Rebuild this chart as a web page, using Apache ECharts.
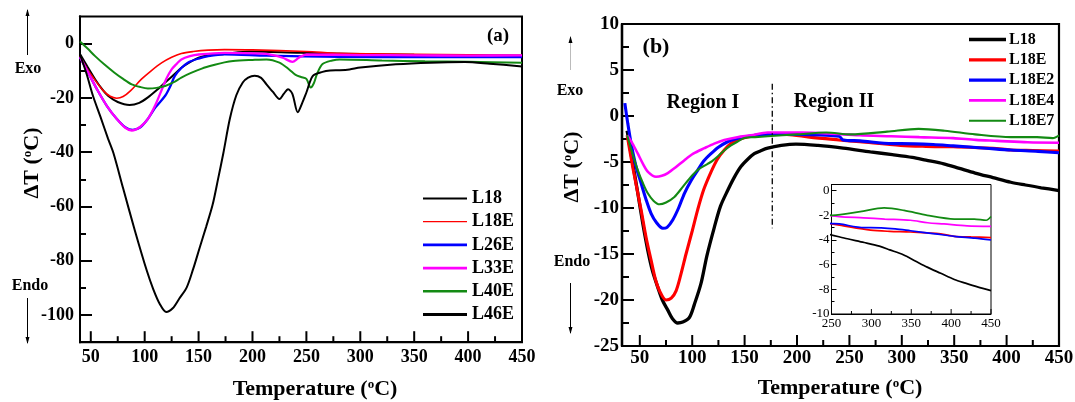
<!DOCTYPE html>
<html>
<head>
<meta charset="utf-8">
<script src="https://cdn.jsdelivr.net/npm/echarts@6/dist/echarts.min.js"></script>
<style>
html,body{margin:0;padding:0;background:#fff;}
#c{width:1075px;height:402px;}
</style>
</head>
<body>
<div id="c"></div>
<script>
// ---------- Panel (a) data: [temperature, deltaT] ----------
const a_L18 = [[40,-3.8],[47,-8.5],[54,-13.1],[60,-16.5],[66,-19.2],[75,-21.5],[86,-22.6],[95,-21.8],[103,-19.8],[111,-17.2],[119,-14.3],[127,-11.5],[134,-8.9],[142,-6.8],[150,-5.2],[160,-4.3],[174,-3.8],[197,-2.9],[244,-3.4],[300,-3.8],[350,-4.1],[400,-4.3],[450,-4.5]];
const a_L18E = [[40,-4.6],[47,-9.5],[55,-14],[62,-17.5],[68,-19.4],[74,-20.1],[80,-19.5],[87,-17.3],[97,-13.1],[106,-10],[116,-7],[125,-5],[134,-3.6],[145,-2.9],[159,-2.4],[174,-2.2],[200,-2.3],[250,-2.9],[281,-3.6],[350,-3.9],[400,-4.1],[450,-4.3]];
const a_L26E = [[40,-5],[48,-11],[56,-17],[65,-23],[74,-27.7],[82,-30.8],[89,-31.8],[96,-30.8],[103,-27.7],[110,-23.5],[119,-19.2],[124,-15.5],[128,-11.9],[134,-9],[140,-7],[150,-5.5],[159,-4.6],[174,-3.9],[213,-4.4],[281,-4.9],[350,-5],[400,-5],[450,-5]];
const a_L33E = [[40,-5],[48,-11],[56,-17],[65,-23],[74,-27.7],[82,-31],[88,-32],[96,-30.6],[103,-27.7],[110,-22.5],[116,-16.8],[120,-13],[125,-9.5],[130,-7.3],[134,-5.8],[142,-4.6],[150,-4],[174,-3.4],[213,-3.8],[228,-5.2],[237,-6.7],[243,-5.2],[250,-4],[300,-4.2],[350,-4.3],[400,-4.4],[450,-4.3]];
const a_L40E = [[40,0.8],[47,-1.8],[54,-4.6],[63,-7.8],[72,-10.7],[80,-13],[88,-15],[96,-16],[103,-16.5],[111,-16.3],[119,-15.6],[127,-14.2],[134,-12.5],[143,-10.8],[153,-9.2],[165,-7.8],[174,-6.9],[182,-6.4],[200,-6],[213,-5.8],[225,-7],[234,-9.5],[240,-11.5],[245,-12.3],[250,-13],[254,-16.2],[257,-14.5],[260,-11],[265,-7.5],[274,-6.2],[281,-5.8],[320,-6.2],[360,-6.5],[400,-6.7],[450,-7]];
const a_L46E = [[40,-4],[46,-11],[52,-19.2],[59,-27],[66,-35],[71,-40.3],[80,-53.3],[91,-69],[102,-83.7],[108,-90.5],[114,-95.9],[120,-98.9],[126,-97.5],[132,-94],[139,-89.8],[145,-83],[151,-75.2],[157,-67.5],[163,-59.4],[168,-50],[173,-40.3],[179,-27.7],[185,-19],[191,-14.3],[196,-12.5],[202,-11.8],[208,-12.6],[213,-15],[219,-17.8],[225,-20.4],[229,-18.5],[233,-16.8],[237,-18.5],[242,-25.3],[246,-22],[250,-18],[256,-11.9],[265,-10.4],[272,-9.9],[281,-9.8],[290,-9.5],[300,-8.8],[333,-7.6],[365,-7],[397,-6.8],[420,-7.4],[450,-8.4]];

// ---------- Panel (b) data ----------
const b_L18 = [[37.9,-1.6],[43,-5],[48.1,-8.4],[53,-11.8],[57.6,-14.6],[62,-16.8],[67.1,-18.6],[71.5,-20],[76.7,-21.1],[81,-22],[86.2,-22.5],[91,-22.4],[97.3,-21.9],[102,-20.5],[108.4,-18.2],[114,-15.2],[121.1,-12.1],[127,-9.8],[133.8,-8.1],[140,-6.7],[146.5,-5.5],[153,-4.7],[159.2,-4.1],[165,-3.8],[172,-3.5],[185,-3.2],[199,-3.05],[220,-3.2],[244,-3.5],[270,-3.9],[291,-4.2],[310,-4.5],[323,-4.8],[340,-5.2],[355,-5.7],[370,-6.2],[387,-6.7],[404,-7.2],[418,-7.5],[433,-7.8],[450,-8.1]];
const b_L18E = [[37.9,-2.1],[44,-6],[51.2,-10.2],[56,-13.2],[60.8,-15.7],[65,-17.8],[68.8,-19],[75,-20],[80,-19.8],[84.6,-19],[89,-17.3],[94.1,-15],[100,-12.5],[105.2,-10.2],[111,-8],[117.9,-6.1],[124,-4.7],[130.6,-3.7],[137,-3],[143.3,-2.6],[156,-2.2],[172,-2.0],[190,-2.0],[212,-2.3],[240,-2.6],[260,-2.8],[299,-3.2],[323,-3.3],[349,-3.35],[387,-3.5],[404,-3.7],[425,-3.75],[450,-3.8]];
const b_L18E2 = [[35.7,1.4],[38.5,-0.8],[41.7,-3],[46,-5.3],[51.2,-7.3],[56,-9.1],[60.8,-10.6],[66,-11.6],[71.9,-12.2],[76,-12.1],[81.4,-11.3],[87,-10],[92.6,-8.4],[99,-7],[105.2,-5.9],[111,-4.9],[117.9,-4.1],[125,-3.4],[133.8,-2.8],[141,-2.5],[149.7,-2.3],[160,-2.1],[172,-2.0],[200,-2.0],[240,-2.2],[244,-2.6],[260,-2.7],[291,-3.0],[299,-3.0],[330,-3.1],[349,-3.25],[380,-3.5],[404,-3.7],[430,-3.85],[450,-4.0]];
const b_L18E4 = [[37.9,-2.1],[43,-3],[48.1,-4.1],[53,-5.2],[58,-6.1],[65.5,-6.6],[71,-6.5],[76.7,-6.2],[84,-5.6],[92.6,-4.8],[101,-4.1],[111.6,-3.5],[121,-3.0],[130.6,-2.6],[143,-2.3],[156,-2.1],[172,-1.8],[205,-1.8],[230,-1.9],[259.5,-2.1],[290,-2.2],[316.7,-2.3],[349,-2.4],[370.6,-2.6],[391,-2.7],[420,-2.85],[450,-2.9]];
const b_L18E7 = [[37.9,-2.1],[43,-4.1],[48.1,-5.9],[53,-7.3],[57.6,-8.4],[63,-9.2],[68.8,-9.6],[75,-9.4],[83,-8.8],[91,-7.7],[98.9,-6.6],[106,-5.8],[114.8,-5.2],[119,-4.9],[124.3,-4.4],[130,-3.8],[137,-3.2],[143,-2.8],[149.7,-2.4],[160,-2.3],[172,-2.2],[200,-2.0],[228,-1.8],[251,-2.0],[286,-1.7],[316,-1.4],[341,-1.6],[370,-2.0],[404,-2.3],[429,-2.3],[444,-2.4],[450,-2.1]];
const b_boundary = [[176.4,3.5],[176.4,-12.2]];

// ---------- Tick values ----------
const aXTicks = [50,100,150,200,250,300,350,400,450];
const aXMinor = [75,125,175,225,275,325,375,425];
const aYTicks = [-100,-80,-60,-40,-20,0];
const aYMinor = [-90,-70,-50,-30,-10];
const bXTicks = [50,100,150,200,250,300,350,400,450];
const bXMinor = [75,125,175,225,275,325,375,425];
const bYTicks = [-25,-20,-15,-10,-5,0,5,10];
const bYMinor = [-22.5,-17.5,-12.5,-7.5,-2.5,2.5,7.5];
const iXTicks = [250,300,350,400,450];
const iXMinor = [275,325,375,425];
const iYTicks = [-10,-8,-6,-4,-2,0];
const iYMinor = [-9,-7,-5,-3,-1];

const FF = '"Liberation Serif","Times New Roman",serif';

function xAxisDef(grid, min, max, major, o) {
  return {
    type: 'value', gridIndex: grid, min: min, max: max, position: 'bottom',
    axisLine: {show: true, onZero: false, lineStyle: {color: '#000', width: o.lineW}},
    splitLine: {show: false},
    axisTick: {show: false},
    axisLabel: {show: true, customValues: major, margin: o.margin, fontFamily: FF, fontWeight: o.bold ? 'bold' : 'normal', fontSize: o.fs, color: '#000'}
  };
}
function yAxesPair(grid, min, max, major, minor, o) {
  const line = {show: true, onZero: false, lineStyle: {color: '#000', width: o.lineW}};
  return [{
    type: 'value', gridIndex: grid, min: min, max: max, position: 'left',
    axisLine: line, splitLine: {show: false},
    axisTick: {show: true, inside: true, length: o.majorLen, customValues: major, lineStyle: {color: '#000', width: o.tickW}},
    axisLabel: {show: true, customValues: major, margin: o.margin, fontFamily: FF, fontWeight: o.bold ? 'bold' : 'normal', fontSize: o.fs, color: '#000'}
  }, {
    type: 'value', gridIndex: grid, min: min, max: max, position: 'left',
    axisLine: line, splitLine: {show: false}, axisLabel: {show: false},
    axisTick: {show: true, inside: true, length: o.minorLen, customValues: minor, lineStyle: {color: '#000', width: o.tickW}}
  }];
}

const xAxes = [
  xAxisDef(0, 40, 450, aXTicks, {lineW: 2, margin: 6, fs: 18, bold: true}),
  xAxisDef(1, 33, 450, bXTicks, {lineW: 2.2, margin: 3, fs: 19, bold: true}),
  xAxisDef(2, 250, 450, iXTicks, {lineW: 1, margin: 3, fs: 13, bold: false})
];
const yAxes = [].concat(
  yAxesPair(0, -110, 10, aYTicks, aYMinor, {majorLen: 12, minorLen: 6, tickW: 2, lineW: 2, margin: 6, fs: 18, bold: true}),
  yAxesPair(1, -25, 10, bYTicks, bYMinor, {majorLen: 12, minorLen: 7, tickW: 2, lineW: 2.2, margin: 3, fs: 19, bold: true}),
  yAxesPair(2, -10, 0.5, iYTicks, iYMinor, {majorLen: 5, minorLen: 3, tickW: 1, lineW: 1, margin: 2, fs: 13, bold: false})
);

// Bottom-axis tick marks, placed through the axis scales (inward pointing)
function xTickSeries(xi, yi, yBottom, major, minor, majorLen, minorLen, w) {
  const data = major.map(function (v) { return [v, yBottom, majorLen]; })
    .concat(minor.map(function (v) { return [v, yBottom, minorLen]; }));
  return {
    type: 'custom', name: 'xticks' + xi, xAxisIndex: xi, yAxisIndex: yi, clip: false, silent: true, z: 5,
    encode: {x: 0, y: 1},
    data: data,
    renderItem: function (params, api) {
      const p = api.coord([api.value(0), api.value(1)]);
      const len = api.value(2);
      return {type: 'line', shape: {x1: p[0], y1: p[1], x2: p[0], y2: p[1] - len}, style: {stroke: '#000', lineWidth: w}};
    }
  };
}

function ser(name, data, xi, yi, color, width, extra) {
  return Object.assign({
    name: name, type: 'line', data: data, xAxisIndex: xi, yAxisIndex: yi,
    symbol: 'none', showSymbol: false, smooth: 0.3, clip: true,
    color: color, lineStyle: {color: color, width: width}, silent: true
  }, extra || {});
}

const BLACK = '#000000', RED = '#ff0000', BLUE = '#0000ff', MAG = '#ff00ff', GREEN = '#138a13';

const series = [
  ser('L18', a_L18, 0, 0, BLACK, 2),
  ser('L18E', a_L18E, 0, 0, RED, 1.6),
  ser('L26E', a_L26E, 0, 0, BLUE, 2.3),
  ser('L33E', a_L33E, 0, 0, MAG, 2.3),
  ser('L40E', a_L40E, 0, 0, GREEN, 2),
  ser('L46E', a_L46E, 0, 0, BLACK, 2),

  ser('L18 (b)', b_L18, 1, 2, BLACK, 3.3),
  ser('L18E (b)', b_L18E, 1, 2, RED, 3.1),
  ser('L18E2', b_L18E2, 1, 2, BLUE, 3.1),
  ser('L18E4', b_L18E4, 1, 2, MAG, 2.6),
  ser('L18E7', b_L18E7, 1, 2, GREEN, 2.1),
  ser('boundary', b_boundary, 1, 2, BLACK, 1.3, {smooth: false, lineStyle: {color: BLACK, width: 1.3, type: [6, 3, 1.5, 3]}}),

  ser('inset L18', b_L18, 2, 4, BLACK, 1.7),
  ser('inset L18E', b_L18E, 2, 4, RED, 1.7),
  ser('inset L18E2', b_L18E2, 2, 4, BLUE, 1.7),
  ser('inset L18E4', b_L18E4, 2, 4, MAG, 1.7),
  ser('inset L18E7', b_L18E7, 2, 4, GREEN, 1.7),

  xTickSeries(0, 0, -110, aXTicks, aXMinor, 11, 6, 2),
  xTickSeries(1, 2, -25, bXTicks, bXMinor, 11, 6, 2),
  xTickSeries(2, 4, -10, iXTicks, iXMinor, 5, 3, 1)
];

function bar(w, len) { return 'path://M0,0H' + len + 'V' + w + 'H0Z'; }

const legendText = function (fs, pad) {
  return {fontFamily: FF, fontWeight: 'bold', fontSize: fs, color: '#000', padding: pad};
};

function supStyle(x, y, txt, fs, rot) {
  return {
    type: 'text', x: x, y: y, rotation: rot || 0,
    style: {
      text: txt, fontFamily: FF, fontWeight: 'bold', fontSize: fs, fill: '#000',
      align: 'center', verticalAlign: 'middle',
      rich: {s: {fontFamily: FF, fontWeight: 'bold', fontSize: Math.round(fs * 0.6), verticalAlign: 'top', fill: '#000'},
             n: {fontFamily: FF, fontWeight: 'bold', fontSize: fs, fill: '#000'}}
    }
  };
}
function label(x, y, txt, fs) {
  return {type: 'text', x: x, y: y, style: {text: txt, fontFamily: FF, fontWeight: 'bold', fontSize: fs, fill: '#000', align: 'center', verticalAlign: 'middle'}};
}
function arrow(x, y1, y2, up, color) {
  const head = up
    ? [[x, y1 - 1], [x - 2, y1 + 6], [x + 2, y1 + 6]]
    : [[x, y2 + 1], [x - 2, y2 - 6], [x + 2, y2 - 6]];
  return [
    {type: 'line', shape: {x1: x, y1: y1, x2: x, y2: y2}, style: {stroke: color || '#000', lineWidth: 1}},
    {type: 'polygon', shape: {points: head}, style: {fill: '#000'}}
  ];
}

const graphics = [
  supStyle(315, 389, '{n|Temperature (}{s|o}{n|C)}', 22),
  supStyle(840, 388, '{n|Temperature (}{s|o}{n|C)}', 22),
  supStyle(32, 163, '{n|ΔT (}{s|o}{n|C)}', 22, Math.PI / 2),
  supStyle(572, 167, '{n|ΔT (}{s|o}{n|C)}', 22, Math.PI / 2),
  label(498, 36, '(a)', 19),
  label(656, 47, '(b)', 22),
  label(703, 103, 'Region I', 20),
  label(834, 102, 'Region II', 20),
  label(28, 69, 'Exo', 16),
  label(30, 286, 'Endo', 16),
  label(570, 91, 'Exo', 16),
  label(572, 262, 'Endo', 16)
].concat(
  arrow(27.5, 10, 55, true),
  arrow(27.5, 298, 343, false),
  arrow(570.5, 37, 70, true, '#bbbbbb'),
  arrow(570.5, 283, 333, false)
);

const option = {
  backgroundColor: '#ffffff',
  animation: false,
  grid: [
    {left: 80, top: 16.5, width: 442, height: 325.7, show: true, borderColor: '#000', borderWidth: 2, backgroundColor: 'transparent', containLabel: false, outerBoundsMode: 'none'},
    {left: 622, top: 24, width: 437, height: 322, show: true, borderColor: '#000', borderWidth: 2.2, backgroundColor: 'transparent', containLabel: false, outerBoundsMode: 'none'},
    {left: 831.5, top: 184.5, width: 159.5, height: 129.5, show: true, borderColor: '#000', borderWidth: 1, backgroundColor: '#ffffff', containLabel: false, outerBoundsMode: 'none'}
  ],
  xAxis: xAxes,
  yAxis: yAxes,
  legend: [
    {
      orient: 'vertical', left: 423, top: 189.5, padding: 0, itemWidth: 44, itemHeight: 14, itemGap: 5.2,
      selectedMode: false, textStyle: legendText(18, [0, 0, 0, 0]),
      data: [
        {name: 'L18', icon: bar(1.8, 44)},
        {name: 'L18E', icon: bar(1.2, 44)},
        {name: 'L26E', icon: bar(2.8, 44)},
        {name: 'L33E', icon: bar(2.8, 44)},
        {name: 'L40E', icon: bar(2.6, 44)},
        {name: 'L46E', icon: bar(2.8, 44)}
      ]
    },
    {
      orient: 'vertical', left: 969, top: 31.5, padding: 0, itemWidth: 37, itemHeight: 14, itemGap: 4.3,
      selectedMode: false, textStyle: legendText(16, [0, 0, 0, -2]),
      data: [
        {name: 'L18 (b)', icon: bar(3.4, 37)},
        {name: 'L18E (b)', icon: bar(3.2, 37)},
        {name: 'L18E2', icon: bar(3.2, 37)},
        {name: 'L18E4', icon: bar(2.6, 37)},
        {name: 'L18E7', icon: bar(2.0, 37)}
      ],
      formatter: function (n) { return n.replace(' (b)', ''); }
    }
  ],
  graphic: graphics,
  series: series
};

const chart = echarts.init(document.getElementById('c'), null, {renderer: 'canvas'});
chart.setOption(option);
</script>
</body>
</html>
